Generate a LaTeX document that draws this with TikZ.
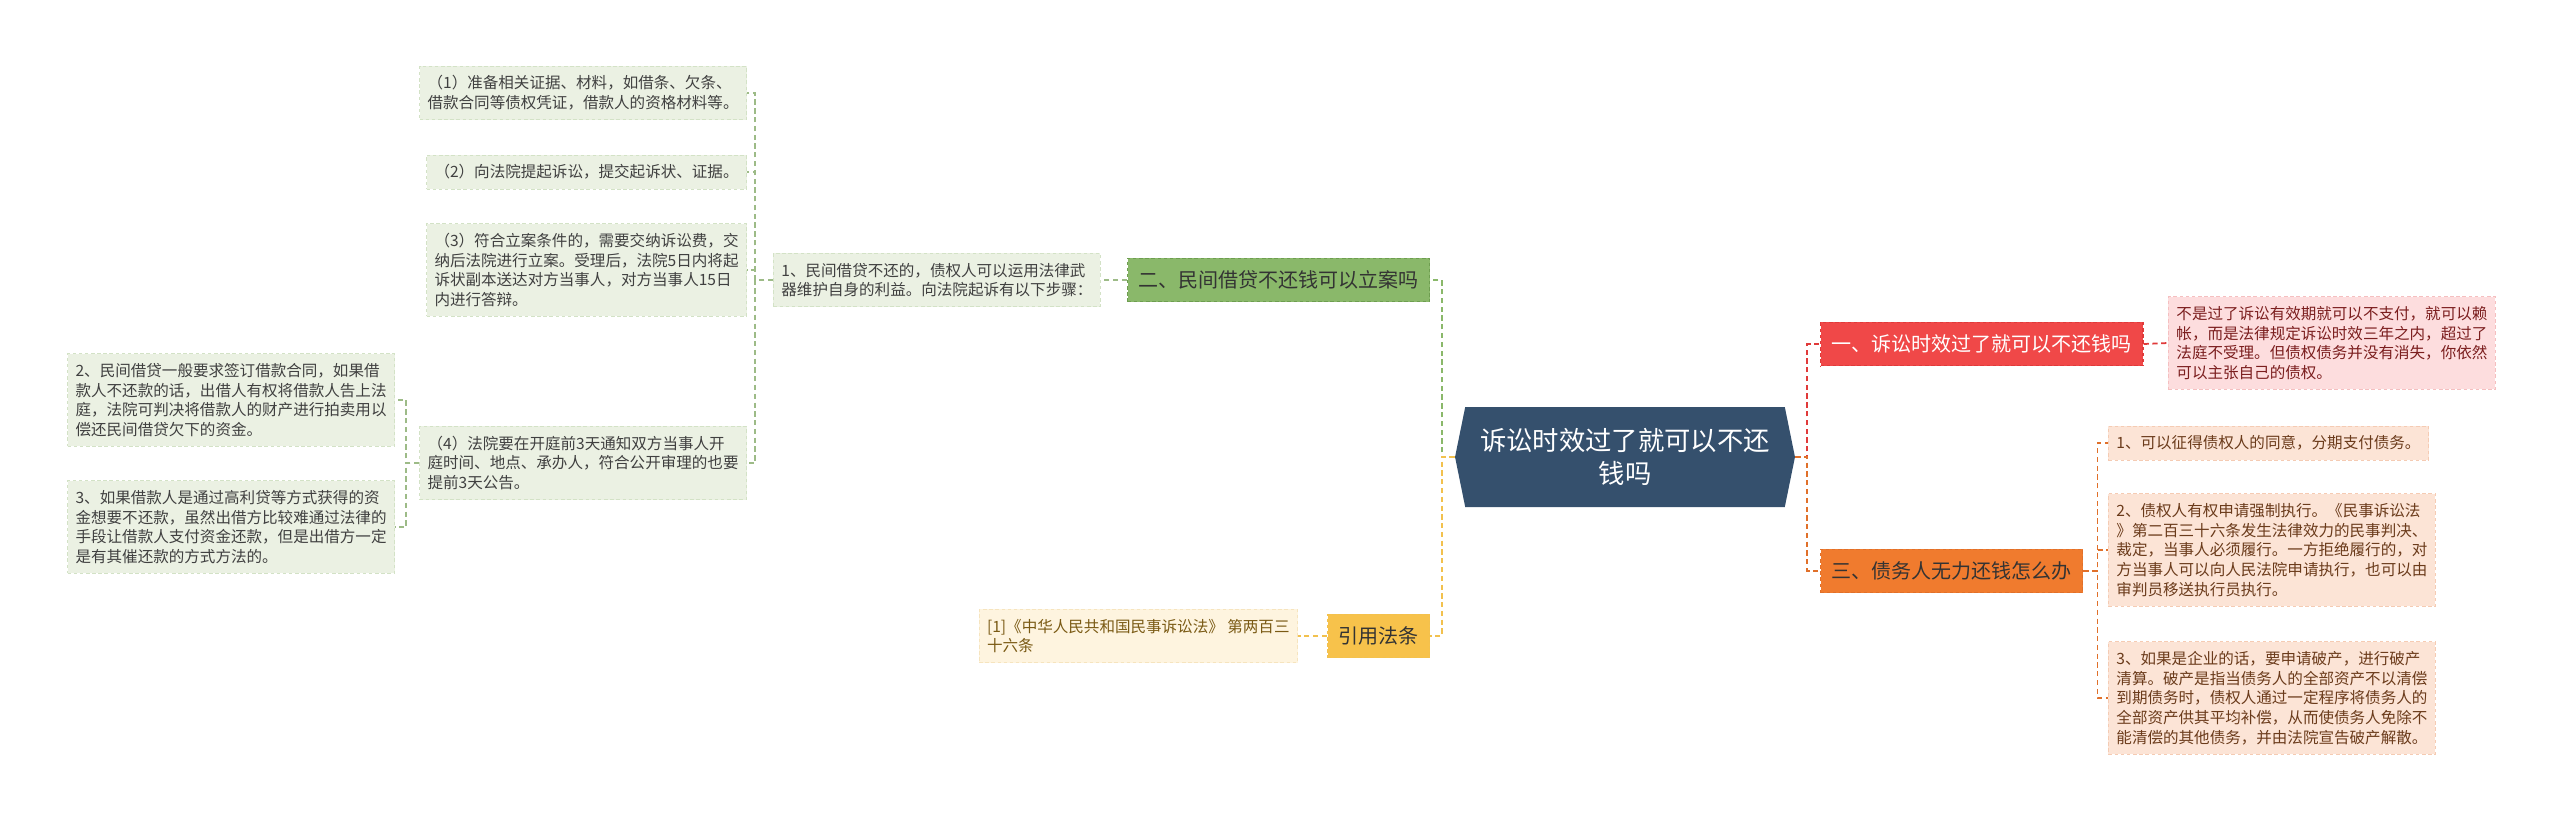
\documentclass[tikz,border=0pt]{standalone}
\usepackage{fontspec}
\setmainfont{Noto Sans CJK SC}
\usetikzlibrary{shapes.symbols,positioning}
\definecolor{rootc}{HTML}{35506D}
\definecolor{gnode}{HTML}{8AB86A}
\definecolor{gnodeb}{HTML}{6E9E50}
\definecolor{gleaf}{HTML}{EBF1E3}
\definecolor{gleafb}{HTML}{D3E2C6}
\definecolor{gline}{HTML}{9DBB87}
\definecolor{rnode}{HTML}{F04848}
\definecolor{rleaf}{HTML}{FDDDDE}
\definecolor{rleafb}{HTML}{F5BFC0}
\definecolor{rline}{HTML}{E03A3A}
\definecolor{rtext}{HTML}{7B1E1E}
\definecolor{onode}{HTML}{F07B2E}
\definecolor{oleaf}{HTML}{FCE4D6}
\definecolor{oleafb}{HTML}{F5CBB3}
\definecolor{oline}{HTML}{E0702A}
\definecolor{otext}{HTML}{6B3B1B}
\definecolor{ynode}{HTML}{F7C24B}
\definecolor{yleaf}{HTML}{FEF4DF}
\definecolor{yleafb}{HTML}{F6E4BE}
\definecolor{yline}{HTML}{F2C14E}
\definecolor{ytext}{HTML}{7A5A14}

\begin{document}
\begin{tikzpicture}[x=0.02cm, y=-0.02cm,
    leaf/.style={draw, dash pattern=on 2pt off 1.5pt, line width=0.5pt, align=left, inner xsep=0.16cm, inner ysep=0.19cm, font=\fontsize{8.85pt}{11.2pt}\selectfont},
    branch/.style={draw, dash pattern=on 2pt off 1.5pt, line width=0.6pt, inner xsep=0.22cm, inner ysep=0.25cm, font=\fontsize{11.4pt}{13pt}\selectfont},
    conn/.style={line width=1pt, dash pattern=on 3pt off 2pt}
]
\useasboundingbox (0,0) rectangle (2560,823);

\node[shape=signal, signal to=west and east, signal pointer angle=157, fill=rootc, text=white, align=center, minimum width=6.8cm, minimum height=2cm, inner sep=0pt, font=\fontsize{15pt}{18.8pt}\selectfont] (root) at (1625,457) {诉讼时效过了就可以不还\\钱吗};

\node[branch, fill=gnode, draw=gnodeb, text=black!80, anchor=west] (b2) at (1127,280) {二、民间借贷不还钱可以立案吗};
\node[leaf, fill=gleaf, draw=gleafb, text=black!75, anchor=west] (m1) at (773,280) {1、民间借贷不还的，债权人可以运用法律武\\器维护自身的利益。向法院起诉有以下步骤：};
\node[leaf, fill=gleaf, draw=gleafb, text=black!75, anchor=east] (s1) at (747,93) {（1）准备相关证据、材料，如借条、欠条、\\借款合同等债权凭证，借款人的资格材料等。};
\node[leaf, fill=gleaf, draw=gleafb, text=black!75, anchor=east] (s2) at (747,172) {（2）向法院提起诉讼，提交起诉状、证据。};
\node[leaf, fill=gleaf, draw=gleafb, text=black!75, anchor=east] (s3) at (747,270) {（3）符合立案条件的，需要交纳诉讼费，交\\纳后法院进行立案。受理后，法院5日内将起\\诉状副本送达对方当事人，对方当事人15日\\内进行答辩。};
\node[leaf, fill=gleaf, draw=gleafb, text=black!75, anchor=east] (s4) at (747,463) {（4）法院要在开庭前3天通知双方当事人开\\庭时间、地点、承办人，符合公开审理的也要\\提前3天公告。};
\node[leaf, fill=gleaf, draw=gleafb, text=black!75, anchor=east] (n2) at (395,400) {2、民间借贷一般要求签订借款合同，如果借\\款人不还款的话，出借人有权将借款人告上法\\庭，法院可判决将借款人的财产进行拍卖用以\\偿还民间借贷欠下的资金。};
\node[leaf, fill=gleaf, draw=gleafb, text=black!75, anchor=east] (n3) at (395,527) {3、如果借款人是通过高利贷等方式获得的资\\金想要不还款，虽然出借方比较难通过法律的\\手段让借款人支付资金还款，但是出借方一定\\是有其催还款的方式方法的。};

\node[branch, fill=ynode, draw=yline, text=black!80, anchor=west] (b4) at (1327,636) {引用法条};
\node[leaf, fill=yleaf, draw=yleafb, text=ytext, anchor=east] (c1) at (1298,636) {[1]《中华人民共和国民事诉讼法》 第两百三\\十六条};

\node[branch, fill=rnode, draw=rline, text=white, anchor=west] (b1) at (1820,344) {一、诉讼时效过了就可以不还钱吗};
\node[leaf, fill=rleaf, draw=rleafb, text=rtext, anchor=west] (r1) at (2168,343) {不是过了诉讼有效期就可以不支付，就可以赖\\帐，而是法律规定诉讼时效三年之内，超过了\\法庭不受理。但债权债务并没有消失，你依然\\可以主张自己的债权。};

\node[branch, fill=onode, draw=oline, text=black!80, anchor=west] (b3) at (1820,571) {三、债务人无力还钱怎么办};
\node[leaf, fill=oleaf, draw=oleafb, text=otext, anchor=west] (o1) at (2108,443) {1、可以征得债权人的同意，分期支付债务。};
\node[leaf, fill=oleaf, draw=oleafb, text=otext, anchor=west] (o2) at (2108,550) {2、债权人有权申请强制执行。《民事诉讼法\\》第二百三十六条发生法律效力的民事判决、\\裁定，当事人必须履行。一方拒绝履行的，对\\方当事人可以向人民法院申请执行，也可以由\\审判员移送执行员执行。};
\node[leaf, fill=oleaf, draw=oleafb, text=otext, anchor=west] (o3) at (2108,698) {3、如果是企业的话，要申请破产，进行破产\\清算。破产是指当债务人的全部资产不以清偿\\到期债务时，债权人通过一定程序将债务人的\\全部资产供其平均补偿，从而使债务人免除不\\能清偿的其他债务，并由法院宣告破产解散。};

\draw[conn, gnode] (root.west) -- ++(-13,0) |- (b2.east);
\draw[conn, gline] (b2.west) -- (m1.east);
\foreach \s in {s1,s2,s3,s4}
  \draw[conn, gline] (m1.west) -- ++(-18,0) |- (\s.east);
\foreach \s in {n2,n3}
  \draw[conn, gline] (s4.west) -- ++(-13,0) |- (\s.east);
\draw[conn, yline] (root.west) -- ++(-13,0) |- (b4.east);
\draw[conn, yline] (b4.west) -- (c1.east);
\draw[conn, rline] (root.east) -- ++(12,0) |- (b1.west);
\draw[conn, rline] (b1.east) -- (r1.west);
\draw[conn, oline] (root.east) -- ++(12,0) |- (b3.west);
\foreach \s in {o1,o2,o3}
  \draw[conn, oline] (b3.east) -- ++(14,0) |- (\s.west);
\end{tikzpicture}
\end{document}
